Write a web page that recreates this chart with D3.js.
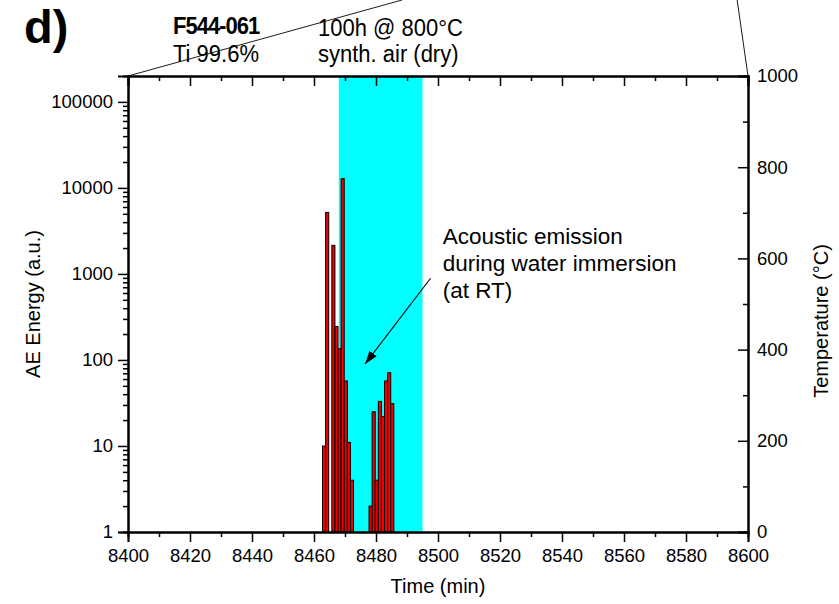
<meta charset="utf-8">
<style>
body { margin: 0; background: #fff; }
text { font-family: "Liberation Sans", Arial, sans-serif; fill: #000; }
.tick text { font-size: 18.5px; }
.axis path, .axis line { stroke: #000; }
</style>
<body>
<script src="https://d3js.org/d3.v7.min.js"></script>
<script>
// AE events (time in min, energy in a.u.)
var times  = [8463, 8464, 8466, 8467, 8468, 8469, 8470, 8471, 8472,
              8478, 8479, 8480, 8481, 8482, 8483, 8484, 8485];
var energy = [10, 5200, 2150, 245, 135, 12800, 57, 11, 4,
              2, 25, 4, 33, 22, 57, 71, 31];
var immersion = [8468, 8495];          // water immersion window (min)
var xTicks = [8400, 8420, 8440, 8460, 8480, 8500, 8520, 8540, 8560, 8580, 8600];
var yTicks = [1, 10, 100, 1000, 10000, 100000];
var tempTicks = [0, 200, 400, 600, 800, 1000];

// set the dimensions and margins of the graph
var W = 839, H = 604;
var margin = {top: 76, right: 91, bottom: 72, left: 128},
    width = W - margin.left - margin.right,
    height = H - margin.top - margin.bottom;

var x = d3.scaleLinear().domain([8400, 8600]).range([0, width]);
var y = d3.scaleLog().domain([1, 2e5]).range([height, 0]);
var yT = d3.scaleLinear().domain([0, 1000]).range([height, 0]);

var svg0 = d3.select("body").append("svg")
    .attr("width", W)
    .attr("height", H);
var svg = svg0.append("g")
    .attr("transform", "translate(" + margin.left + "," + margin.top + ")");

// immersion band
svg.append("rect")
    .attr("x", x(immersion[0]))
    .attr("y", 0)
    .attr("width", x(immersion[1]) - x(immersion[0]))
    .attr("height", height)
    .attr("fill", "#00ffff");

// bars
svg.selectAll(".bar")
    .data(times)
  .enter().append("rect")
    .attr("class", "bar")
    .attr("x", function(d) { return x(d - 0.25); })
    .attr("width", x(8401) - x(8400))
    .attr("y", function(d, i) { return y(energy[i]); })
    .attr("height", function(d, i) { return height - y(energy[i]); })
    .attr("fill", "#f00000")
    .attr("stroke", "#000")
    .attr("stroke-width", 1);

// minor tick helpers
function minors(lo, hi, step) { return d3.range(lo, hi + step / 2, step); }
var logMinor = [];
yTicks.forEach(function(v) { for (var k = 2; k <= 9; k++) if (v * k < 2e5) logMinor.push(v * k); });

// bottom axis (outward ticks)
svg.append("g").attr("class", "axis")
    .attr("transform", "translate(0," + height + ")")
    .call(d3.axisBottom(x).tickValues(minors(8410, 8590, 20)).tickSize(5).tickFormat(""));
svg.append("g").attr("class", "axis")
    .attr("transform", "translate(0," + height + ")")
    .call(d3.axisBottom(x).tickValues(xTicks).tickSize(10).tickPadding(7).tickFormat(d3.format("d")));

// top axis (inward ticks)
svg.append("g").attr("class", "axis")
    .call(d3.axisTop(x).tickValues(minors(8410, 8590, 20)).tickSize(-5).tickFormat(""));
svg.append("g").attr("class", "axis")
    .call(d3.axisTop(x).tickValues(xTicks).tickSize(-10).tickFormat(""));

// left log axis (outward)
svg.append("g").attr("class", "axis")
    .call(d3.axisLeft(y).tickValues(logMinor).tickSize(5).tickFormat(""));
svg.append("g").attr("class", "axis")
    .call(d3.axisLeft(y).tickValues(yTicks).tickSize(10).tickPadding(5).tickFormat(d3.format("d")));

// right temperature axis (inward)
svg.append("g").attr("class", "axis")
    .attr("transform", "translate(" + width + ",0)")
    .call(d3.axisRight(yT).tickValues(minors(100, 900, 200)).tickSize(-5).tickFormat(""));
svg.append("g").attr("class", "axis")
    .attr("transform", "translate(" + width + ",0)")
    .call(d3.axisRight(yT).tickValues(tempTicks).tickSize(-10).tickPadding(9).tickFormat(d3.format("d")));

svg.selectAll(".axis path").attr("stroke-width", 2);
svg.selectAll(".axis line").attr("stroke-width", 1.5);

// axis titles
svg.append("text")
    .attr("x", width / 2)
    .attr("y", height + 61)
    .attr("text-anchor", "middle")
    .style("font-size", "20px")
    .text("Time (min)");
svg.append("text")
    .attr("transform", "translate(" + (-88) + "," + (height / 2) + ") rotate(-90)")
    .attr("text-anchor", "middle")
    .style("font-size", "20px")
    .text("AE Energy (a.u.)");
svg.append("text")
    .attr("transform", "translate(" + (width + 80) + "," + (height / 2 + 17) + ") rotate(-90)")
    .attr("text-anchor", "middle")
    .style("font-size", "20px")
    .text("Temperature (°C)");

// connector lines to the parent figure
svg0.append("line")
    .attr("x1", margin.left + x(8400)).attr("y1", margin.top)
    .attr("x2", margin.left + x(8488.4)).attr("y2", 0)
    .attr("stroke", "#000").attr("stroke-width", 0.9);
svg0.append("line")
    .attr("x1", margin.left + x(8600)).attr("y1", margin.top)
    .attr("x2", margin.left + x(8596.5)).attr("y2", 0)
    .attr("stroke", "#000").attr("stroke-width", 0.9);

// header texts
svg0.append("text")
    .attr("x", 24).attr("y", 43)
    .style("font-size", "47px").style("font-weight", "bold")
    .text("d)");
svg0.append("text")
    .attr("transform", "translate(173,34) scale(1,1.12)")
    .style("font-size", "22px").style("font-weight", "bold")
    .style("letter-spacing", "-1px")
    .text("F544-061");
svg0.append("text")
    .attr("transform", "translate(173,62) scale(1,1.12)")
    .style("font-size", "22px")
    .text("Ti 99.6%");
svg0.append("text")
    .attr("transform", "translate(318,36) scale(1,1.12)")
    .style("font-size", "22px")
    .text("100h @ 800°C");
svg0.append("text")
    .attr("transform", "translate(318,62) scale(1,1.12)")
    .style("font-size", "22px")
    .text("synth. air (dry)");

// annotation
var annot = ["Acoustic emission", "during water immersion", "(at RT)"];
svg.selectAll(".annot")
    .data(annot)
  .enter().append("text")
    .attr("class", "annot")
    .attr("x", x(8501.5))
    .attr("y", function(d, i) { return y(2240) + i * 27; })
    .style("font-size", "22.5px")
    .text(function(d) { return d; });

svg0.append("defs").append("marker")
    .attr("id", "arr")
    .attr("viewBox", "0 0 10 10")
    .attr("refX", 10).attr("refY", 5)
    .attr("markerWidth", 13).attr("markerHeight", 13)
    .attr("markerUnits", "userSpaceOnUse")
    .attr("orient", "auto")
  .append("path")
    .attr("d", "M0,1.5 L10,5 L0,8.5 z")
    .attr("fill", "#000");
svg.append("line")
    .attr("x1", x(8497.6)).attr("y1", y(890))
    .attr("x2", x(8476.5)).attr("y2", y(90))
    .attr("stroke", "#000").attr("stroke-width", 1.1)
    .attr("marker-end", "url(#arr)");
</script>
</body>
